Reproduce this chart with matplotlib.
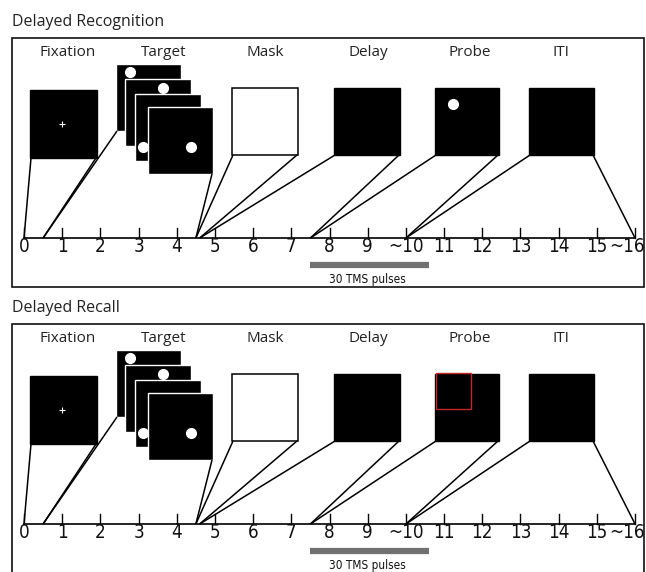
import matplotlib
matplotlib.use('Agg')
import matplotlib.pyplot as plt
from matplotlib.patches import Rectangle
import numpy as np

# ---- data -------------------------------------------------------------
panel_titles = ['Delayed Recognition', 'Delayed Recall']
epochs = ['Fixation', 'Target', 'Mask', 'Delay', 'Probe', 'ITI']
epoch_on = [0.0, 0.5, 4.5, 4.6, 7.5, 10.0]     # s
epoch_off = [0.5, 4.5, 4.6, 7.5, 10.0, 16.0]   # s
tick_times = np.arange(0, 17)
tick_labels = ['0', '1', '2', '3', '4', '5', '6', '7', '8', '9', '~10',
               '11', '12', '13', '14', '15', '~16']
tms_window = (7.5, 10.6)
tms_label = '30 TMS pulses'

# ---- layout (pixels) --------------------------------------------------
W, H = 646, 572
PANEL_H = 286
T0 = 24.0      # pixel of t = 0
PPS = 38.19    # pixels per second


def sx(p):
    return (p - T0) / PPS


label_font = ['Open Sans', 'DejaVu Sans']
narrow = dict(family='DejaVu Sans', stretch='condensed')

# stimulus squares: left, top, width, height, dot position (or None)
stim = {
    'Fixation': [(30, 90, 67, 68, None)],
    'Target': [(116, 64, 65, 67, (130, 72)), (125, 79, 66, 67, (163, 88)),
               (135, 94, 66, 67, (143, 147)), (148, 107, 65, 67, (191, 147))],
    'Mask': [(232, 88, 66, 67, None)],
    'Delay': [(334, 88, 66, 67, None)],
    'Probe': [(435, 88, 64, 67, (453, 104))],
    'ITI': [(529, 88, 65, 67, None)],
}
label_x = [68, 164, 265, 368, 470, 561]

fig = plt.figure(figsize=(W / 100, H / 100), dpi=100)

for i, title in enumerate(panel_titles):
    ax = fig.add_axes([0, 1 - (i + 1) * PANEL_H / H, 1, PANEL_H / H])
    ax.set_xlim(sx(0), sx(W))
    ax.set_ylim(PANEL_H, 0)
    ax.axis('off')

    ax.text(sx(12), 22, title, ha='left', va='center', fontsize=11.5,
            family=label_font, color='#222222')
    ax.add_patch(Rectangle((sx(12), 38), sx(644) - sx(12), 249, fill=False,
                           lw=1.2, ec='#111111', clip_on=False))

    # stimuli
    z = 1.0
    for name, lx in zip(epochs, label_x):
        ax.text(sx(lx), 52, name, ha='center', va='center', fontsize=11,
                family=label_font, color='#222222')
        for (l, t, w, h, dot) in stim[name]:
            if name == 'Mask':
                ax.add_patch(Rectangle((sx(l), t), w / PPS, h, fc='white',
                                       ec='black', lw=1.1, zorder=z))
            else:
                ax.add_patch(Rectangle((sx(l), t), w / PPS, h, fc='black',
                                       ec='white' if name == 'Target' else 'black',
                                       lw=1.0, zorder=z))
            if dot is not None and not (name == 'Probe' and i == 1):
                ax.plot([sx(dot[0])], [dot[1]], 'o', ms=7, color='white',
                        mec='white', ls='none', zorder=z + 0.05)
            z += 0.1

    # fixation cross
    ax.plot([sx(62)], [124], marker='+', ms=5, mew=0.8, color='white', zorder=5)
    if i == 1:
        ax.add_patch(Rectangle((sx(436), 87), 35 / PPS, 36, fill=False,
                               ec='#c1272d', lw=1.0, zorder=5))

    # funnel lines from stimuli down to the timeline
    for name, on, off in zip(epochs, epoch_on, epoch_off):
        sq = stim[name]
        l0, t0, w0, h0, _ = sq[0]
        l1, t1, w1, h1, _ = sq[-1]
        ax.plot([sx(l0 + 1), on], [t0 + h0, 238], color='black', lw=1.1,
                solid_capstyle='butt', zorder=6)
        ax.plot([sx(l1 + w1 - 1), off], [t1 + h1, 238], color='black', lw=1.1,
                solid_capstyle='butt', zorder=6)

    # timeline
    ax.plot([tick_times[0], tick_times[-1]], [238, 238], color='black', lw=1.2)
    for t, lab in zip(tick_times, tick_labels):
        ax.plot([t, t], [228, 238], color='black', lw=1.0)
        if t == tick_times[-1]:
            # last label sits flush against the right edge
            ax.text(sx(645), 247, lab, ha='right', va='center', fontsize=13.5,
                    color='#111111', **narrow)
        else:
            ax.text(t, 247, lab, ha='center', va='center', fontsize=13.5,
                    color='#111111', **narrow)

    # TMS bar
    ax.plot(list(tms_window), [265, 265], color='#707070', lw=4.5,
            solid_capstyle='butt')
    ax.text(np.mean(tms_window) - 0.05, 280, tms_label, ha='center',
            va='center', fontsize=8.5, color='#111111', **narrow)

fig.savefig('out.png', dpi=100)
